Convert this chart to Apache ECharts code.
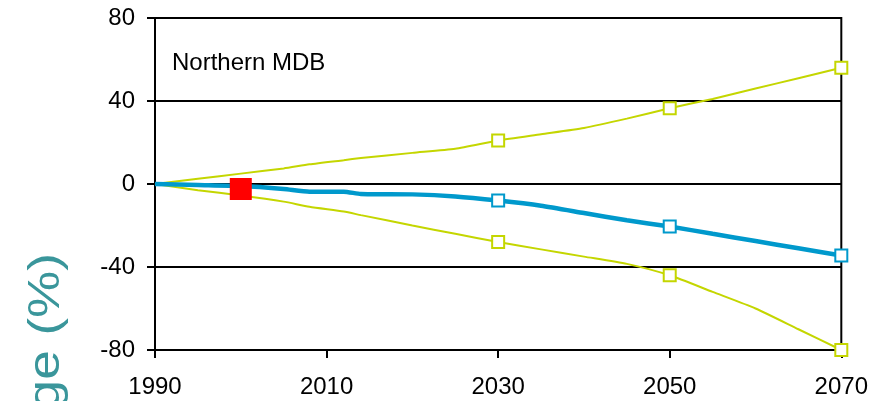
<!DOCTYPE html>
<html>
<head>
<meta charset="utf-8">
<script src="https://cdn.jsdelivr.net/npm/echarts@6/dist/echarts.min.js"></script>
<style>
  html, body { margin: 0; padding: 0; background: #fff; }
  #chart { width: 871px; height: 401px; }
</style>
</head>
<body>
<div id="chart"></div>
<script>
  // years along the line
  const years = [1990, 1995, 2000, 2005, 2008, 2012, 2014, 2020, 2025, 2030, 2035, 2040, 2045, 2050, 2055, 2060, 2065, 2070]
  const upper = [0, 2.5, 5, 7.5, 9.5, 11.5, 12.5, 15, 17, 21, 24, 27, 31.5, 36.5, 41, 46, 51, 56]
  const middle = [0, -0.5, -1, -2.4, -3.7, -3.7, -4.8, -5, -6, -8, -10.5, -14, -17.5, -20.5, -24, -27.5, -31, -34.5]
  const lower = [0, -3, -5.5, -8.5, -11, -13.3, -15, -20, -24, -28, -31.5, -35, -38.5, -44, -52, -60, -70, -80]
  const markerYears = [2030, 2050, 2070]
  const upperMarks = [21, 36.5, 56]
  const middleMarks = [-8, -20.5, -34.5]
  const lowerMarks = [-28, -44, -80]
  const observed = [[2000, -2.4]]
  const yTicks = [-80, -40, 0, 40, 80]

  const green = '#c4d600'
  const blue = '#0099cc'
  const font = 'Liberation Sans, Arial'

  function pairs(xs, ys) {
    return xs.map((x, i) => [x, ys[i]])
  }

  function lineSeries(name, vals, color, width) {
    return {
      name: name,
      type: 'line',
      data: pairs(years, vals),
      showSymbol: false,
      smooth: 0.2,
      lineStyle: { color: color, width: width },
      z: width > 3 ? 3 : 2
    }
  }

  function markSeries(vals, color) {
    return {
      type: 'scatter',
      data: pairs(markerYears, vals),
      symbol: 'rect',
      symbolSize: 12,
      itemStyle: { color: '#fff', borderColor: color, borderWidth: 2, opacity: 1 },
      z: 4
    }
  }

  const chart = echarts.init(document.getElementById('chart'))
  chart.setOption({
    backgroundColor: '#fff',
    animation: false,
    grid: {
      left: 155,
      right: 29,
      top: 18,
      bottom: 51,
      show: true,
      borderColor: '#000',
      borderWidth: 2
    },
    xAxis: {
      type: 'value',
      min: 1990,
      max: 2070,
      interval: 20,
      axisLine: { onZero: false, lineStyle: { color: '#000', width: 2 } },
      axisTick: { show: true, inside: false, length: 8, lineStyle: { color: '#000', width: 2 } },
      splitLine: { show: false },
      axisLabel: {
        color: '#000',
        fontSize: 24,
        fontFamily: font,
        margin: 25,
        formatter: v => String(v)
      }
    },
    yAxis: {
      type: 'value',
      min: yTicks[0],
      max: yTicks[yTicks.length - 1],
      interval: 40,
      axisLine: { show: true, lineStyle: { color: '#000', width: 2 } },
      axisTick: { show: true, length: 8, lineStyle: { color: '#000', width: 2 } },
      splitLine: { show: true, lineStyle: { color: '#000', width: 2 } },
      axisLabel: { color: '#000', fontSize: 24, fontFamily: font, margin: 20 }
    },
    graphic: [
      {
        type: 'text',
        left: 172,
        top: 51,
        style: { text: 'Northern MDB', fill: '#000', fontSize: 24, fontFamily: font }
      },
      {
        type: 'text',
        x: 47,
        y: 253,
        rotation: Math.PI / 2,
        scaleX: 1.18,
        style: {
          text: 'ge (%)',
          fill: '#3a969b',
          fontSize: 45,
          fontFamily: font,
          align: 'right',
          verticalAlign: 'middle'
        }
      }
    ],
    series: [
      lineSeries('upper', upper, green, 2),
      lineSeries('lower', lower, green, 2),
      lineSeries('middle', middle, blue, 4.5),
      markSeries(upperMarks, green),
      markSeries(lowerMarks, green),
      markSeries(middleMarks, blue),
      {
        type: 'scatter',
        data: observed,
        symbol: 'rect',
        symbolSize: 22,
        itemStyle: { color: '#ff0000', opacity: 1 },
        z: 5
      }
    ]
  })
</script>
</body>
</html>
